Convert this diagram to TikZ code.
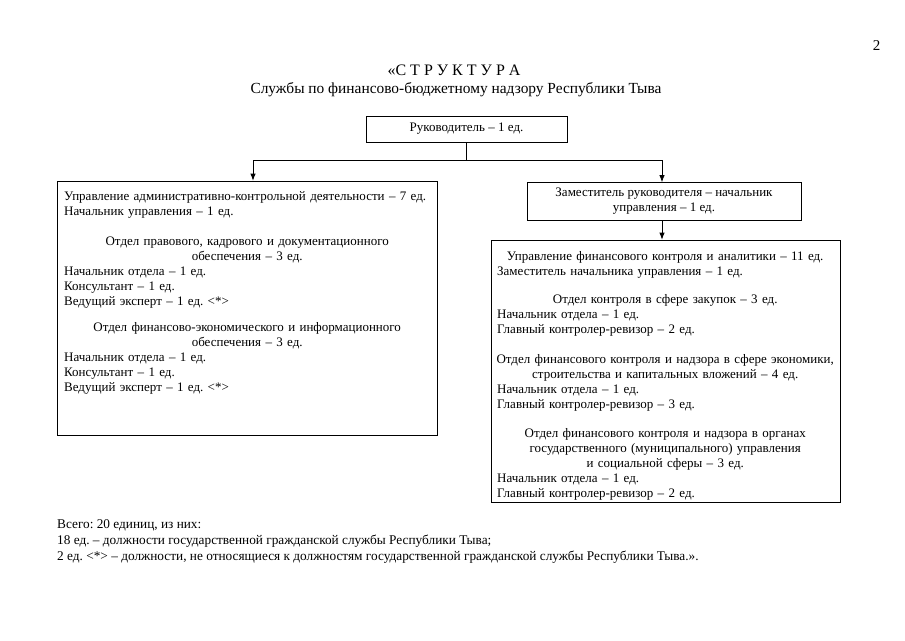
\documentclass[tikz,border=0pt]{standalone}
\usepackage{fontspec}
\setmainfont{Liberation Serif}
\usetikzlibrary{positioning,arrows.meta,calc}
\newcommand{\ctrln}[1]{\leavevmode\hbox to \hsize{\hss#1\hss}}
\frenchspacing

\begin{document}
\begin{tikzpicture}[x=1pt, y=-1pt, >={Latex[length=7pt,width=5.5pt]},
      font=\fontsize{13}{15}\selectfont,
      box/.style={draw, line width=0.8pt, inner sep=0pt},
      txt/.style={anchor=north west, align=left, inner sep=0pt}]
    \useasboundingbox (0,0) rectangle (905,640);
    \node[anchor=base east, font=\fontsize{15}{17}\selectfont] (page) at (884,50) {2};
    \node[anchor=base, font=\fontsize{16}{18}\selectfont] (title) at (454,75) {«С~Т~Р~У~К~Т~У~Р~А};
    \node[anchor=base, font=\fontsize{15.4}{18}\selectfont] (subtitle) at (456,93) {Службы по финансово-бюджетному надзору Республики Тыва};
    % boxes
    \node[box, minimum width=201, minimum height=26] (head) at (466.5,129) {Руководитель – 1 ед.};
    \node[box, minimum width=380, minimum height=254] (adm) at (247,308) {};
    \node[box, minimum width=274, minimum height=38, align=center] (dep) at (664,201.5)
         {Заместитель руководителя – начальник\\управления – 1 ед.};
    \node[box, minimum width=349, minimum height=262] (fin) at (665.5,371) {};
    % box texts
    \node[txt, text width=366] (admtxt) at (64,191.5) {%
      Управление административно-контрольной деятельности – 7 ед.\\
      Начальник управления – 1 ед.\\[15pt]
      \ctrln{Отдел правового, кадрового и документационного}\\
      \ctrln{обеспечения – 3 ед.}\\
      Начальник отдела – 1 ед.\\
      Консультант – 1 ед.\\
      Ведущий эксперт – 1 ед. <*>\\[11pt]
      \ctrln{Отдел финансово-экономического и информационного}\\
      \ctrln{обеспечения – 3 ед.}\\
      Начальник отдела – 1 ед.\\
      Консультант – 1 ед.\\
      Ведущий эксперт – 1 ед. <*>};
    \node[txt, text width=336] (fintxt) at (497,251) {%
      \ctrln{Управление финансового контроля и аналитики – 11 ед.}\\
      Заместитель начальника управления – 1 ед.\\[13pt]
      \ctrln{Отдел контроля в сфере закупок – 3 ед.}\\
      Начальник отдела – 1 ед.\\
      Главный контролер-ревизор – 2 ед.\\[15pt]
      \ctrln{Отдел финансового контроля и надзора в сфере экономики,}\\
      \ctrln{строительства и капитальных вложений – 4 ед.}\\
      Начальник отдела – 1 ед.\\
      Главный контролер-ревизор – 3 ед.\\[14pt]
      \ctrln{Отдел финансового контроля и надзора в органах}\\
      \ctrln{государственного (муниципального) управления}\\
      \ctrln{и социальной сферы – 3 ед.}\\
      Начальник отдела – 1 ед.\\
      Главный контролер-ревизор – 2 ед.};
    % footer
    \node[txt, font=\fontsize{13.3}{16}\selectfont] (total) at (57,519.5) {%
      Всего: 20 единиц, из них:\\
      18 ед. – должности государственной гражданской службы Республики Тыва;\\
      2 ед. <*> – должности, не относящиеся к должностям государственной гражданской службы Республики Тыва.».};
    % connectors
    \draw[line width=0.8pt] (head.south) -- ++(0,18) coordinate (split);
    \draw[->, line width=0.8pt] (split) -| ([xshift=6pt]adm.north);
    \draw[->, line width=0.8pt] (split) -| ([xshift=-2pt]dep.north);
    \draw[->, line width=0.8pt] ([xshift=-2pt]dep.south) -- ([xshift=-3.5pt]fin.north);
  \end{tikzpicture}
\end{document}
